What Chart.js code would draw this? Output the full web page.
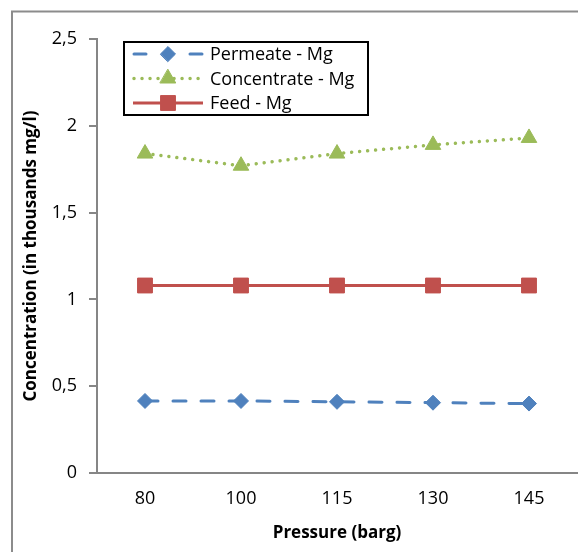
<!DOCTYPE html>
<html>
<head>
<meta charset="utf-8">
<script src="https://cdn.jsdelivr.net/npm/chart.js@4/dist/chart.umd.min.js"></script>
<style>
  html, body { margin: 0; padding: 0; background: #ffffff; }
  #wrap { width: 578px; height: 552px; position: relative; }
</style>
</head>
<body>
<div id="wrap"><canvas id="c" width="578" height="552"></canvas></div>
<script>
// ---- data ----
const categories = ['80', '100', '115', '130', '145'];
const permeateMg = [0.415, 0.415, 0.41, 0.405, 0.40];
const concentrateMg = [1.84, 1.77, 1.84, 1.89, 1.93];
const feedMg = [1.08, 1.08, 1.08, 1.08, 1.08];
const seriesNames = ['Permeate - Mg', 'Concentrate - Mg', 'Feed - Mg'];
const yTickValues = [0, 0.5, 1, 1.5, 2, 2.5];
const xTitle = 'Pressure (barg)';
const yTitle = 'Concentration (in thousands mg/l)';

const FONT = "'Open Sans', 'Noto Sans', sans-serif";
const AXIS = '#868686';

const datasets = [
  {
    label: seriesNames[0], data: permeateMg,
    borderColor: '#4F81BD', backgroundColor: '#4F81BD',
    borderWidth: 3, borderDash: [13, 15], borderCapStyle: 'round',
    pointStyle: 'rectRot', pointRadius: 7.5, pointBorderWidth: 1,
    pointBackgroundColor: '#4F81BD', pointBorderColor: '#4F81BD', tension: 0
  },
  {
    label: seriesNames[1], data: concentrateMg,
    borderColor: '#9BBB59', backgroundColor: '#9BBB59',
    borderWidth: 3.5, borderDash: [0.01, 8], borderCapStyle: 'round',
    pointStyle: 'triangle', pointRadius: 9, pointBorderWidth: 1,
    pointBackgroundColor: '#9BBB59', pointBorderColor: '#9BBB59', tension: 0
  },
  {
    label: seriesNames[2], data: feedMg,
    borderColor: '#C0504D', backgroundColor: '#C0504D',
    borderWidth: 3,
    pointStyle: 'rect', pointRadius: 10.5, pointBorderWidth: 1,
    pointBackgroundColor: '#C0504D', pointBorderColor: '#C0504D', tension: 0
  }
];

const framePlugin = {
  id: 'frame',
  beforeDraw(chart) {
    const ctx = chart.ctx;
    ctx.save();
    ctx.fillStyle = '#ffffff';
    ctx.fillRect(0, 0, chart.width, chart.height);
    ctx.strokeStyle = '#8c8c8c';
    ctx.lineWidth = 2;
    ctx.strokeRect(12, 11.5, chart.width + 20, chart.height + 20);
    ctx.restore();
  }
};

const legendPlugin = {
  id: 'boxLegend',
  afterDraw(chart) {
    const ctx = chart.ctx;
    const bx = 124, by = 42, bw = 244, bh = 73;
    ctx.save();
    ctx.fillStyle = '#ffffff';
    ctx.fillRect(bx, by, bw, bh);
    ctx.strokeStyle = '#000000';
    ctx.lineWidth = 2;
    ctx.strokeRect(bx, by, bw, bh);
    const rows = [54, 78.5, 103];
    const x0 = 134, x1 = 202, xm = 168;
    chart.data.datasets.forEach((ds, i) => {
      const y = rows[i];
      ctx.strokeStyle = ds.borderColor;
      ctx.lineWidth = ds.borderWidth;
      ctx.lineCap = 'round';
      if (i === 0) {
        ctx.setLineDash([]);
        ctx.beginPath();
        ctx.moveTo(x0, y); ctx.lineTo(x0 + 12, y);
        ctx.moveTo(x1 - 12, y); ctx.lineTo(x1, y);
        ctx.stroke();
      } else if (i === 1) {
        ctx.setLineDash([0.01, 8]);
        ctx.beginPath();
        ctx.moveTo(x0, y); ctx.lineTo(x1 + 1, y);
        ctx.stroke();
      } else {
        ctx.setLineDash([]);
        ctx.lineCap = 'butt';
        ctx.beginPath();
        ctx.moveTo(x0 - 1, y); ctx.lineTo(x1 + 1, y);
        ctx.stroke();
      }
      ctx.setLineDash([]);
      ctx.fillStyle = ds.pointBackgroundColor;
      ctx.strokeStyle = ds.pointBorderColor;
      ctx.lineWidth = ds.pointBorderWidth;
      ctx.beginPath();
      Chart.helpers.drawPoint(ctx, {
        pointStyle: ds.pointStyle, radius: ds.pointRadius,
        borderWidth: ds.pointBorderWidth, rotation: 0
      }, xm, y);
      ctx.fillStyle = '#000000';
      ctx.font = '18px ' + FONT;
      ctx.textBaseline = 'middle';
      ctx.textAlign = 'left';
      ctx.fillText(ds.label, 210, y + 1);
    });
    ctx.restore();
  }
};

new Chart(document.getElementById('c'), {
  type: 'line',
  data: { labels: categories, datasets: datasets },
  plugins: [framePlugin, legendPlugin],
  options: {
    responsive: false,
    animation: false,
    layout: { autoPadding: false, padding: { top: 39, right: 1, bottom: 0, left: 0 } },
    plugins: { legend: { display: false }, tooltip: { enabled: false } },
    scales: {
      x: {
        offset: true,
        grid: { display: false, drawTicks: false },
        border: { display: true, color: AXIS, width: 2 },
        ticks: { color: '#000000', font: { family: FONT, size: 18 }, padding: 15 },
        title: { display: true, text: xTitle, color: '#000000',
                 font: { family: FONT, size: 17, weight: 'bold' }, padding: { top: 0, bottom: 9 } },
        afterFit(s) { s.height = 79; s.paddingLeft = 0; s.paddingRight = 0; }
      },
      y: {
        min: 0, max: 2.5,
        afterBuildTicks(s) { s.ticks = yTickValues.map(v => ({ value: v })); },
        grid: { display: true, drawOnChartArea: false, drawTicks: true, tickLength: 8, color: AXIS, lineWidth: 2 },
        border: { display: true, color: AXIS, width: 2 },
        ticks: { color: '#000000', font: { family: FONT, size: 18 }, padding: 12,
                 callback: v => String(v).replace('.', ',') },
        title: { display: true, text: yTitle, color: '#000000',
                 font: { family: FONT, size: 17, weight: 'bold' }, padding: { top: 21, bottom: 0 } },
        afterFit(s) { s.width = 97; }
      }
    }
  }
});
</script>
</body>
</html>
